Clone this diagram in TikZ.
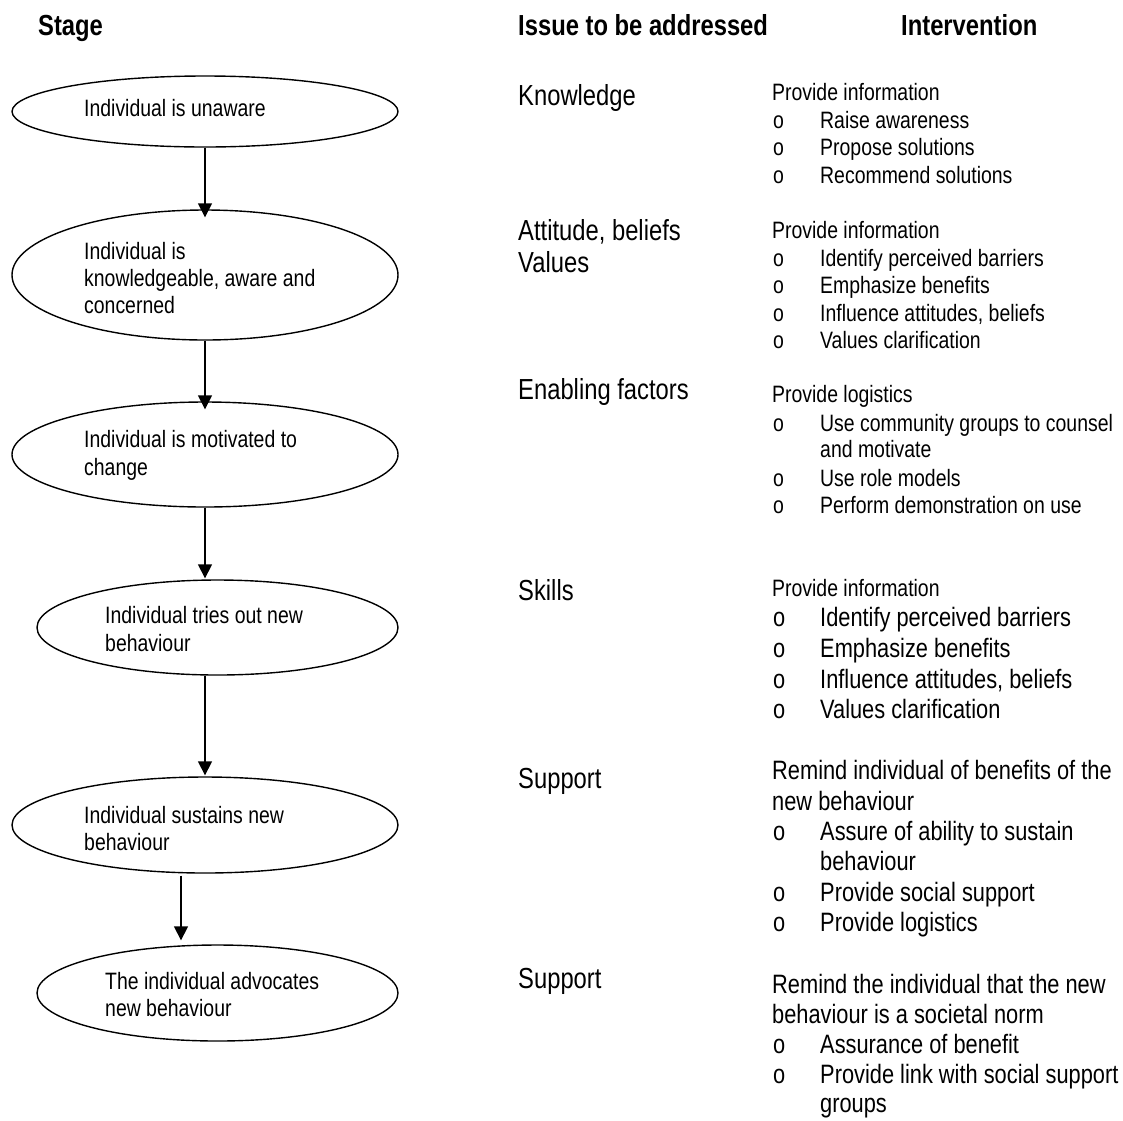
\documentclass[tikz,border=0pt]{standalone}
\usepackage{fontspec}
\setmainfont{Liberation Sans}[FakeStretch=0.82]
\usetikzlibrary{shapes.geometric,arrows.meta}
\tikzset{
  stagebox/.style={draw, ellipse, line width=1.4pt, inner sep=0pt},
  txt/.style={anchor=base west, inner sep=0pt, font=\fontsize{23.7}{27}\selectfont},
  bigtxt/.style={anchor=base west, inner sep=0pt, font=\fontsize{26.6}{30}\selectfont},
  issue/.style={anchor=base west, inner sep=0pt, font=\fontsize{29}{32}\selectfont},
  head/.style={anchor=base west, inner sep=0pt, font=\bfseries\fontsize{29}{32}\selectfont},
  flow/.style={-{Triangle[length=14pt,width=14pt]}, line width=1.6pt},
}
\begin{document}
\begin{tikzpicture}[x=1pt,y=-1pt]
\useasboundingbox (0,0) rectangle (1123,1120);
% headers
\node[head] (hstage) at (38,35) {Stage};
\node[head] (hissue) at (518,35) {Issue to be addressed};
\node[head] (hint) at (901,35) {Intervention};
% stages
\node[stagebox, minimum width=386pt, minimum height=71pt] (e1) at (205,111.5) {};
\node[stagebox, minimum width=386pt, minimum height=130pt] (e2) at (205,275) {};
\node[stagebox, minimum width=386pt, minimum height=105pt] (e3) at (205,454.5) {};
\node[stagebox, minimum width=361pt, minimum height=95pt] (e4) at (217.5,627.5) {};
\node[stagebox, minimum width=386pt, minimum height=96pt] (e5) at (205,825) {};
\node[stagebox, minimum width=361pt, minimum height=96pt] (e6) at (217.5,993) {};
\node[txt] (e1a) at (84,116) {Individual is unaware};
\node[txt] (e2a) at (84,259.3) {Individual is};
\node[txt] (e2b) at (84,286.7) {knowledgeable, aware and};
\node[txt] (e2c) at (84,313.3) {concerned};
\node[txt] (e3a) at (84,447.3) {Individual is motivated to};
\node[txt] (e3b) at (84,475) {change};
\node[txt] (e4a) at (105,623.3) {Individual tries out new};
\node[txt] (e4b) at (105,651.7) {behaviour};
\node[txt] (e5a) at (84,823.3) {Individual sustains new};
\node[txt] (e5b) at (84,850) {behaviour};
\node[txt] (e6a) at (105,989.3) {The individual advocates};
\node[txt] (e6b) at (105,1016.7) {new behaviour};
% connectors
\coordinate (a5x) at (181,900);
\draw[flow, shorten >=-8pt] (e1.south) -- (e2.north);
\draw[flow, shorten >=-8pt] (e2.south) -- (e3.north);
\draw[flow, shorten >=1pt] (e3.south) -- (e3.south |- e4.north);
\draw[flow, shorten >=1pt] (e4.south -| e3.south) -- (e5.north);
\draw[flow, shorten >=4pt, shorten <=2pt] (a5x |- e5.south) -- (a5x |- e6.north);
% issues
\node[issue] (i1) at (518,105) {Knowledge};
\node[issue] (i2a) at (518,240) {Attitude, beliefs};
\node[issue] (i2b) at (518,272) {Values};
\node[issue] (i3) at (518,399) {Enabling factors};
\node[issue] (i4) at (518,600) {Skills};
\node[issue] (i5) at (518,788) {Support};
\node[issue] (i6) at (518,988) {Support};
% interventions block 1
\node[txt] (v1) at (772,100) {Provide information};
\node[txt] (v1ao) at (773,128) {o}; \node[txt] (v1a) at (820,128) {Raise awareness};
\node[txt] (v1bo) at (773,155.7) {o}; \node[txt] (v1b) at (820,155.7) {Propose solutions};
\node[txt] (v1co) at (773,183) {o}; \node[txt] (v1c) at (820,183) {Recommend solutions};
% block 2
\node[txt] (v2) at (772,238) {Provide information};
\node[txt] (v2ao) at (773,266) {o}; \node[txt] (v2a) at (820,266) {Identify perceived barriers};
\node[txt] (v2bo) at (773,293) {o}; \node[txt] (v2b) at (820,293) {Emphasize benefits};
\node[txt] (v2co) at (773,321) {o}; \node[txt] (v2c) at (820,321) {Influence attitudes, beliefs};
\node[txt] (v2do) at (773,348) {o}; \node[txt] (v2d) at (820,348) {Values clarification};
% block 3
\node[txt] (v3) at (772,402.7) {Provide logistics};
\node[txt] (v3ao) at (773,431.7) {o}; \node[txt] (v3a) at (820,431.7) {Use community groups to counsel};
\node[txt] (v3a2) at (820,457.7) {and motivate};
\node[txt] (v3bo) at (773,486) {o}; \node[txt] (v3b) at (820,486) {Use role models};
\node[txt] (v3co) at (773,513.3) {o}; \node[txt] (v3c) at (820,513.3) {Perform demonstration on use};
% block 4
\node[txt] (v4) at (772,596) {Provide information};
\node[bigtxt] (v4ao) at (773,626.7) {o}; \node[bigtxt] (v4a) at (820,626.7) {Identify perceived barriers};
\node[bigtxt] (v4bo) at (773,657) {o}; \node[bigtxt] (v4b) at (820,657) {Emphasize benefits};
\node[bigtxt] (v4co) at (773,688) {o}; \node[bigtxt] (v4c) at (820,688) {Influence attitudes, beliefs};
\node[bigtxt] (v4do) at (773,718) {o}; \node[bigtxt] (v4d) at (820,718) {Values clarification};
% block 5
\node[bigtxt] (v5) at (772,779.3) {Remind individual of benefits of the};
\node[bigtxt] (v5x) at (772,810) {new behaviour};
\node[bigtxt] (v5ao) at (773,840) {o}; \node[bigtxt] (v5a) at (820,840) {Assure of ability to sustain};
\node[bigtxt] (v5a2) at (820,870) {behaviour};
\node[bigtxt] (v5bo) at (773,901.7) {o}; \node[bigtxt] (v5b) at (820,901.7) {Provide social support};
\node[bigtxt] (v5co) at (773,931.7) {o}; \node[bigtxt] (v5c) at (820,931.7) {Provide logistics};
% block 6
\node[bigtxt] (v6) at (772,993.3) {Remind the individual that the new};
\node[bigtxt] (v6x) at (772,1023.3) {behaviour is a societal norm};
\node[bigtxt] (v6ao) at (773,1053.3) {o}; \node[bigtxt] (v6a) at (820,1053.3) {Assurance of benefit};
\node[bigtxt] (v6bo) at (773,1083.3) {o}; \node[bigtxt] (v6b) at (820,1083.3) {Provide link with social support};
\node[bigtxt] (v6b2) at (820,1112) {groups};
\end{tikzpicture}
\end{document}
